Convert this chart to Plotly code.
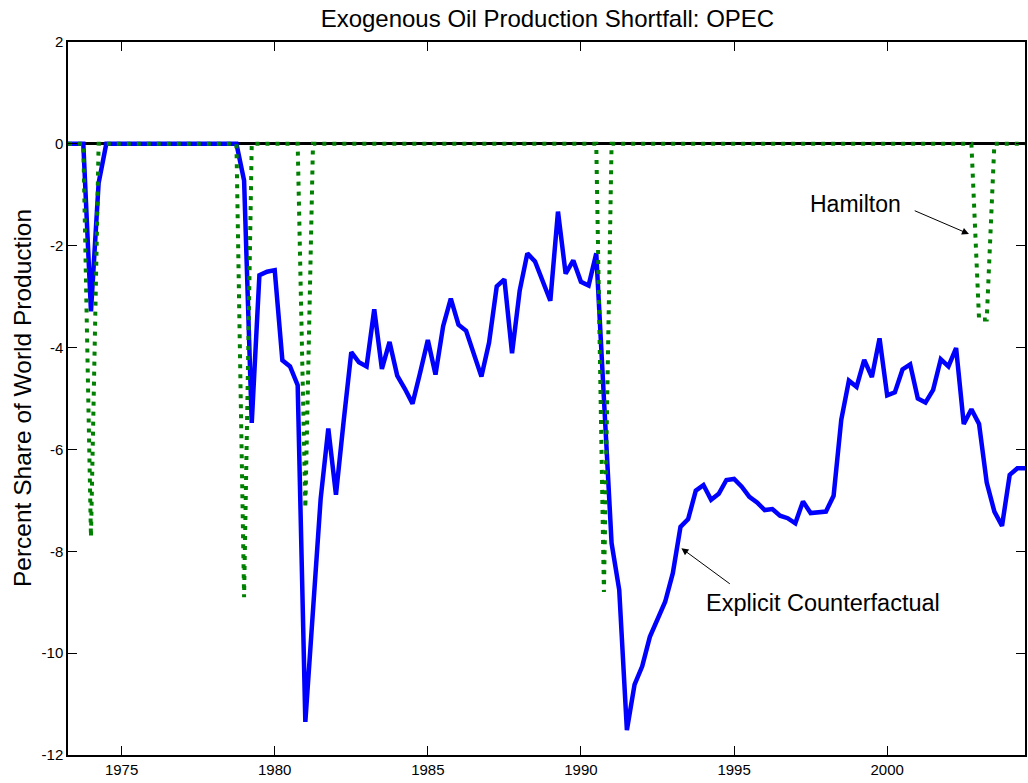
import numpy as np
import plotly.graph_objects as go

# -------------------------------
# Data (quarterly, 1973Q2 - 2004Q3)
# -------------------------------
start_year = 1973.25
n_quarters = 126
dates = start_year + 0.25 * np.arange(n_quarters)

# Explicit counterfactual shortfall (% of world production)
counterfactual = [
    0, 0, 0,                          # 1973 Q2-Q4
    -3.29, -0.77, 0, 0,               # 1974
    0, 0, 0, 0,                       # 1975
    0, 0, 0, 0,                       # 1976
    0, 0, 0, 0,                       # 1977
    0, 0, 0, 0,                       # 1978
    -0.72, -5.48, -2.58, -2.51,       # 1979
    -2.48, -4.25, -4.37, -4.74,       # 1980
    -11.35, -9.10, -6.97, -5.59,      # 1981
    -6.89, -5.45, -4.09, -4.29,       # 1982
    -4.37, -3.25, -4.42, -3.89,       # 1983
    -4.55, -4.81, -5.10, -4.49,       # 1984
    -3.85, -4.53, -3.58, -3.04,       # 1985
    -3.55, -3.67, -4.11, -4.57,       # 1986
    -3.90, -2.80, -2.66, -4.11,       # 1987
    -2.88, -2.15, -2.31, -2.69,       # 1988
    -3.08, -1.33, -2.55, -2.29,       # 1989
    -2.71, -2.78, -2.15, -5.00,       # 1990
    -7.84, -8.76, -11.51, -10.62,     # 1991
    -10.26, -9.68, -9.35, -8.99,      # 1992
    -8.43, -7.52, -7.37, -6.81,       # 1993
    -6.70, -6.99, -6.87, -6.60,       # 1994
    -6.58, -6.73, -6.93, -7.04,       # 1995
    -7.19, -7.17, -7.30, -7.35,       # 1996
    -7.45, -7.02, -7.25, -7.23,       # 1997
    -7.22, -6.91, -5.42, -4.65,       # 1998
    -4.77, -4.24, -4.58, -3.82,       # 1999
    -4.94, -4.88, -4.43, -4.33,       # 2000
    -5.00, -5.08, -4.83, -4.23,       # 2001
    -4.37, -4.01, -5.50, -5.21,       # 2002
    -5.50, -6.65, -7.22, -7.50,       # 2003
    -6.50, -6.37, -6.37,              # 2004 Q1-Q3
]

# Hamilton episodes (zero elsewhere)
hamilton_dates = [1974.0, 1979.0, 1981.0, 1990.75, 2003.0, 2003.25]
hamilton_vals = [-7.72, -8.90, -7.15, -8.80, -3.45, -3.45]

hamilton = np.zeros(n_quarters)
for d, v in zip(hamilton_dates, hamilton_vals):
    hamilton[int(round((d - start_year) / 0.25))] = v

x_ticks = [1975, 1980, 1985, 1990, 1995, 2000]
y_ticks = [-12, -10, -8, -6, -4, -2, 0, 2]
y_ticktext = [str(v) for v in y_ticks]  # plain hyphen like the original

FONT = "Liberation Sans, Arial, sans-serif"

# -------------------------------
# Figure
# -------------------------------
fig = go.Figure()

fig.add_trace(go.Scatter(
    x=dates, y=counterfactual, mode='lines',
    line=dict(color='#0000ff', width=4.5),
    showlegend=False, hoverinfo='x+y',
))
fig.add_trace(go.Scatter(
    x=dates, y=hamilton, mode='lines',
    line=dict(color='#008000', width=4, dash='4px,6px'),
    showlegend=False, hoverinfo='x+y',
))

axis_common = dict(
    showline=True, linecolor='black', linewidth=1.5, mirror='ticks',
    ticks='inside', ticklen=9, tickcolor='black', tickwidth=1,
    showgrid=False,
    tickfont=dict(family=FONT, size=15, color='black'),
)

fig.update_xaxes(range=[1973.25, 2004.5], tickvals=x_ticks,
                 zeroline=False, **axis_common)
fig.update_yaxes(range=[-12, 2], tickvals=y_ticks, ticktext=y_ticktext,
                 zeroline=True, zerolinecolor='black', zerolinewidth=2.5,
                 **axis_common)

# ── Annotations ─────────────────────────────────
fig.add_annotation(x=2002.67, y=-1.77, ax=2000.85, ay=-1.30,
                   axref='x', ayref='y', text='', showarrow=True,
                   arrowhead=2, arrowsize=1.4, arrowwidth=1, arrowcolor='black')
fig.add_annotation(x=1998.97, y=-1.19, text='Hamilton', showarrow=False,
                   font=dict(family=FONT, size=23, color='black'))

fig.add_annotation(x=1993.28, y=-7.94, ax=1994.91, ay=-8.66,
                   axref='x', ayref='y', text='', showarrow=True,
                   arrowhead=2, arrowsize=1.4, arrowwidth=1, arrowcolor='black')
fig.add_annotation(x=1997.9, y=-9.01, text='Explicit Counterfactual', showarrow=False,
                   font=dict(family=FONT, size=23.5, color='black'))

# y label
fig.add_annotation(xref='paper', yref='paper', x=-0.0475, y=0.5,
                   xanchor='center', yanchor='middle', textangle=-90,
                   text='Percent Share of World Production', showarrow=False,
                   font=dict(family=FONT, size=24.5, color='black'))

fig.update_layout(
    title=dict(text='Exogenous Oil Production Shortfall: OPEC',
               x=0.5325, xanchor='center', y=1 - 19 / 783, yanchor='middle',
               yref='container',
               font=dict(family=FONT, size=24, color='black')),
    width=1028, height=783,
    margin=dict(l=68, r=1, t=42, b=28),
    plot_bgcolor='white', paper_bgcolor='white',
)

fig.write_html("out.html", config={'displayModeBar': False},
               post_script="document.body.style.margin='0';")
